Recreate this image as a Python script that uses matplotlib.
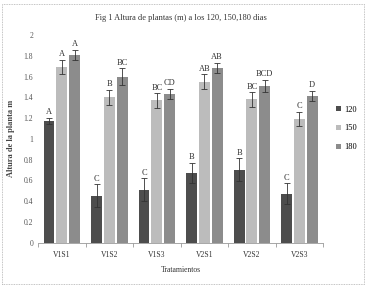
import matplotlib

matplotlib.use("Agg")
import matplotlib.pyplot as plt
import numpy as np
from matplotlib.patches import Rectangle

plt.rcParams["font.family"] = ["Liberation Serif", "DejaVu Serif"]

tratamientos = ["V1S1", "V1S2", "V1S3", "V2S1", "V2S2", "V2S3"]
series = ["120", "150", "180"]
h120 = [1.17, 0.45, 0.51, 0.67, 0.70, 0.47]
h150 = [1.69, 1.40, 1.37, 1.55, 1.38, 1.19]
h180 = [1.81, 1.60, 1.43, 1.68, 1.51, 1.41]
err120 = [0.03, 0.11, 0.11, 0.10, 0.11, 0.10]
err150 = [0.07, 0.07, 0.07, 0.07, 0.07, 0.07]
err180 = [0.05, 0.08, 0.05, 0.05, 0.06, 0.05]
let120 = ["A", "C", "C", "B", "B", "C"]
let150 = ["A", "B", "BC", "AB", "BC", "C"]
let180 = ["A", "BC", "CD", "AB", "BCD", "D"]

colors = ["#4d4d4d", "#bcbcbc", "#8c8c8c"]

fig = plt.figure(figsize=(3.66, 2.87), dpi=100)
fig.patches.append(Rectangle((0.005, 0.01), 0.99, 0.975, transform=fig.transFigure,
                             fill=False, edgecolor="#b0b0b0", lw=0.6, ls=(0, (1, 1))))
ax = fig.add_axes([0.104, 0.155, 0.779, 0.723])

x = np.arange(len(tratamientos))
w, off = 0.23, 0.27
for k, (vals, errs, lets) in enumerate([(h120, err120, let120),
                                         (h150, err150, let150),
                                         (h180, err180, let180)]):
    xs = x + (k - 1) * off
    ax.bar(xs, vals, width=w, color=colors[k], label=series[k], zorder=2)
    ax.errorbar(xs, vals, yerr=errs, fmt="none", ecolor="#333333", elinewidth=0.6,
                capsize=2, capthick=0.6, zorder=3)
    for xi, v, e, t in zip(xs, vals, errs, lets):
        ax.text(xi, v + e + 0.015, t, ha="center", va="bottom", fontsize=6, color="#333333")

ax.set_xlim(-0.5, 5.5)
ax.set_ylim(0, 2.0)
ax.set_yticks(np.arange(0, 2.01, 0.2))
ax.set_yticklabels(["0", "0.2", "0.4", "0.6", "0.8", "1", "1.2", "1.4", "1.6", "1.8", "2"])
ax.set_xticks(x)
ax.set_xticklabels(tratamientos)
ax.set_xticks(np.arange(-0.5, 6, 1), minor=True)
ax.tick_params(axis="x", which="major", length=0, labelsize=5.5, pad=6, colors="#333333")
ax.tick_params(axis="x", which="minor", length=3, color="#999999")
ax.tick_params(axis="y", length=0, labelsize=5.5, colors="#555555")
for s in ["top", "right", "left"]:
    ax.spines[s].set_visible(False)
ax.spines["bottom"].set_color("#999999")
ax.spines["bottom"].set_linewidth(0.6)

ax.set_title("Fig 1 Altura de plantas (m) a los 120, 150,180 dias", fontsize=6, pad=11,
             color="#333333")
ax.set_xlabel("Tratamientos", fontsize=5.5, color="#333333", labelpad=5)
ax.set_ylabel("Altura de la planta m", fontsize=6, fontweight="bold", color="#444444",
              labelpad=6)

ax.legend(loc="center left", bbox_to_anchor=(1.02, 0.55), frameon=False, fontsize=6,
          handlelength=0.5, handleheight=0.5, handletextpad=0.4, labelspacing=1.3)

fig.savefig("out.png", dpi=100)
